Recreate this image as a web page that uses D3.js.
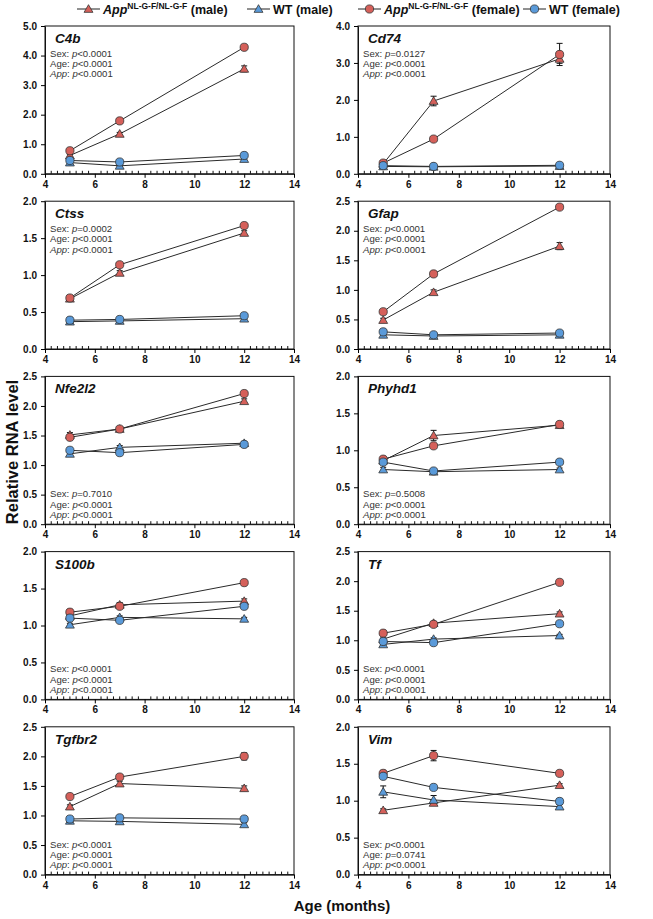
<!DOCTYPE html>
<html>
<head>
<meta charset="utf-8">
<script src="https://cdn.jsdelivr.net/npm/d3@7"></script>
<style>
  html, body { margin: 0; padding: 0; background: #fff; }
  svg { display: block; font-family: "Liberation Sans", Arial, sans-serif; }
</style>
</head>
<body>
<svg id="chart" width="653" height="919"></svg>
<script>
// ---------------- DATA ----------------
const ages = [5, 7, 12];
const genes = ["C4b", "Cd74", "Ctss", "Gfap", "Nfe2l2", "Phyhd1", "S100b", "Tf", "Tgfbr2", "Vim"];
const yMaxes = [5, 4, 2, 2.5, 2.5, 2, 2, 2.5, 2.5, 2];
const yTickSteps = [1, 1, 0.5, 0.5, 0.5, 0.5, 0.5, 0.5, 0.5, 0.5];
const statsPlace = ["top", "top", "top", "top", "bottom", "bottom", "bottom", "bottom", "bottom", "bottom"];
const sexP = ["<0.0001", "=0.0127", "=0.0002", "<0.0001", "=0.7010", "=0.5008", "<0.0001", "<0.0001", "<0.0001", "<0.0001"];
const ageP = ["<0.0001", "<0.0001", "<0.0001", "<0.0001", "<0.0001", "<0.0001", "<0.0001", "<0.0001", "<0.0001", "=0.0741"];
const appP = ["<0.0001", "<0.0001", "<0.0001", "<0.0001", "<0.0001", "<0.0001", "<0.0001", "<0.0001", "<0.0001", "<0.0001"];

// App NL-G-F male (red triangle)
const appMale = [
  [0.62, 1.35, 3.55], [0.27, 1.97, 3.11], [0.68, 1.03, 1.57], [0.49, 0.96, 1.74], [1.51, 1.61, 2.08],
  [0.86, 1.20, 1.34], [1.13, 1.28, 1.33], [1.02, 1.29, 1.45], [1.15, 1.54, 1.46], [0.87, 0.97, 1.21]
];
const appMaleErr = [
  [0.04, 0.05, 0.10], [0.05, 0.13, 0.12], [0.02, 0.03, 0.03], [0.03, 0.04, 0.06], [0.04, 0.02, 0.04],
  [0.03, 0.07, 0.03], [0.02, 0.03, 0.03], [0.02, 0.03, 0.03], [0.03, 0.04, 0.04], [0.02, 0.03, 0.02]
];
// WT male (blue triangle)
const wtMale = [
  [0.38, 0.27, 0.50], [0.20, 0.19, 0.21], [0.37, 0.38, 0.41], [0.24, 0.22, 0.24], [1.19, 1.30, 1.37],
  [0.74, 0.71, 0.74], [1.01, 1.11, 1.09], [0.93, 1.02, 1.08], [0.91, 0.90, 0.85], [1.12, 1.01, 0.92]
];
const wtMaleErr = [
  [0.03, 0.03, 0.03], [0.02, 0.02, 0.02], [0.02, 0.02, 0.02], [0.02, 0.02, 0.02], [0.03, 0.03, 0.03],
  [0.03, 0.02, 0.02], [0.02, 0.02, 0.02], [0.02, 0.02, 0.02], [0.02, 0.03, 0.03], [0.08, 0.06, 0.03]
];
// App NL-G-F female (red circle)
const appFemale = [
  [0.78, 1.79, 4.28], [0.29, 0.94, 3.23], [0.69, 1.14, 1.67], [0.63, 1.27, 2.40], [1.47, 1.61, 2.21],
  [0.88, 1.06, 1.35], [1.18, 1.26, 1.58], [1.12, 1.27, 1.98], [1.32, 1.65, 2.00], [1.37, 1.61, 1.37]
];
const appFemaleErr = [
  [0.03, 0.04, 0.05], [0.04, 0.04, 0.30], [0.02, 0.03, 0.03], [0.02, 0.03, 0.03], [0.03, 0.02, 0.03],
  [0.02, 0.02, 0.03], [0.02, 0.02, 0.02], [0.02, 0.02, 0.02], [0.03, 0.02, 0.06], [0.04, 0.07, 0.03]
];
// WT female (blue circle)
const wtFemale = [
  [0.45, 0.40, 0.62], [0.22, 0.20, 0.23], [0.39, 0.40, 0.45], [0.29, 0.24, 0.27], [1.25, 1.21, 1.35],
  [0.84, 0.72, 0.84], [1.10, 1.07, 1.26], [0.98, 0.96, 1.28], [0.94, 0.96, 0.94], [1.33, 1.18, 0.99]
];
const wtFemaleErr = [
  [0.02, 0.02, 0.03], [0.02, 0.02, 0.02], [0.02, 0.02, 0.02], [0.02, 0.02, 0.02], [0.02, 0.02, 0.02],
  [0.02, 0.02, 0.02], [0.02, 0.02, 0.02], [0.02, 0.02, 0.02], [0.02, 0.02, 0.02], [0.03, 0.02, 0.04]
];
const xTicks = [4, 6, 8, 10, 12, 14];
const legendLabels = ["(male)", "WT (male)", "(female)", "WT (female)"];

// ---------------- STYLE ----------------
const RED = "#d5605a", BLUE = "#5a9ad9";
const series = [
  { vals: appMale, err: appMaleErr, fill: RED, shape: "tri" },
  { vals: wtMale, err: wtMaleErr, fill: BLUE, shape: "tri" },
  { vals: appFemale, err: appFemaleErr, fill: RED, shape: "circ" },
  { vals: wtFemale, err: wtFemaleErr, fill: BLUE, shape: "circ" }
];

const svg = d3.select("#chart");
svg.append("rect").attr("width", 653).attr("height", 919).attr("fill", "#fff");

const colX = [[45, 294], [358, 610]];
const rowTop0 = 26, rowStep = 175.2, plotH = 147.8;

const triPath = d3.symbol().type(d3.symbolTriangle).size(34)();
const circR = 4.1;

function drawMarker(g, shape, fill, x, y) {
  if (shape === "tri") {
    g.append("path").attr("d", triPath).attr("transform", `translate(${x},${y + 0.8})`)
      .attr("fill", fill).attr("stroke", "#333").attr("stroke-width", 0.8);
  } else {
    g.append("circle").attr("cx", x).attr("cy", y).attr("r", circR)
      .attr("fill", fill).attr("stroke", "#333").attr("stroke-width", 0.8);
  }
}

genes.forEach((gene, i) => {
  const col = i % 2, row = Math.floor(i / 2);
  const [x0, x1] = colX[col];
  const top = rowTop0 + row * rowStep, bottom = top + plotH;
  const x = d3.scaleLinear().domain([4, 14]).range([x0, x1]);
  const y = d3.scaleLinear().domain([0, yMaxes[i]]).range([bottom, top]);
  const g = svg.append("g");

  // frame
  g.append("rect").attr("x", x0).attr("y", top).attr("width", x1 - x0).attr("height", plotH)
    .attr("fill", "none").attr("stroke", "#111").attr("stroke-width", 1);

  // y axis
  const yt = d3.range(0, yMaxes[i] + 1e-9, yTickSteps[i]);
  const yAxis = d3.axisLeft(y).tickValues(yt).tickFormat(d3.format(".1f")).tickSize(4).tickSizeOuter(0);
  const ya = g.append("g").attr("transform", `translate(${x0},0)`).call(yAxis);
  ya.select(".domain").attr("stroke", "#111");
  ya.selectAll("text").attr("font-size", 10).attr("font-weight", "bold").attr("fill", "#111")
    .attr("font-family", "Liberation Sans, Arial, sans-serif").attr("dx", "-1");

  // x axis with minor ticks inward
  const minor = d3.range(4, 14.001, 0.25).filter(v => !xTicks.includes(v));
  g.append("g").selectAll("line").data(minor).join("line")
    .attr("x1", d => x(d)).attr("x2", d => x(d)).attr("y1", bottom).attr("y2", bottom - 3)
    .attr("stroke", "#111").attr("stroke-width", 1);
  const xAxis = d3.axisBottom(x).tickValues(xTicks).tickFormat(d3.format("d")).tickSize(4).tickSizeOuter(0);
  const xa = g.append("g").attr("transform", `translate(0,${bottom})`).call(xAxis);
  xa.select(".domain").attr("stroke", "#111");
  xa.selectAll("text").attr("font-size", 10).attr("font-weight", "bold").attr("fill", "#111")
    .attr("font-family", "Liberation Sans, Arial, sans-serif");

  // gene label
  g.append("text").attr("x", x0 + 10).attr("y", top + 17).text(gene)
    .attr("font-size", 13.5).attr("font-weight", "bold").attr("font-style", "italic").attr("fill", "#111");

  // stats
  const base = statsPlace[i] === "top" ? top + 30.5 : bottom - 27;
  const lines = [
    [["Sex: ", false], ["p", true], [sexP[i], false]],
    [["Age: ", false], ["p", true], [ageP[i], false]],
    [["App", true], [": ", false], ["p", true], [appP[i], false]]
  ];
  lines.forEach((ln, k) => {
    const t = g.append("text").attr("x", x0 + 5).attr("y", base + k * 10.4)
      .attr("font-size", 9.6).attr("fill", "#333");
    ln.forEach(([s, it]) => t.append("tspan").text(s).attr("font-style", it ? "italic" : "normal"));
  });

  // lines
  const line = d3.line().x((d, j) => x(ages[j])).y(d => y(d));
  series.forEach(s => {
    g.append("path").attr("d", line(s.vals[i])).attr("fill", "none")
      .attr("stroke", "#2a2a2a").attr("stroke-width", 1);
  });
  // error bars
  series.forEach(s => {
    s.vals[i].forEach((v, j) => {
      const e = s.err[i][j];
      const cx = x(ages[j]);
      const eg = g.append("g").attr("stroke", "#111").attr("stroke-width", 1);
      eg.append("line").attr("x1", cx).attr("x2", cx).attr("y1", y(v - e)).attr("y2", y(v + e));
      eg.append("line").attr("x1", cx - 3).attr("x2", cx + 3).attr("y1", y(v + e)).attr("y2", y(v + e));
      eg.append("line").attr("x1", cx - 3).attr("x2", cx + 3).attr("y1", y(v - e)).attr("y2", y(v - e));
    });
  });
  // markers
  series.forEach(s => {
    s.vals[i].forEach((v, j) => drawMarker(g, s.shape, s.fill, x(ages[j]), y(v)));
  });
});

// axis titles
svg.append("text").attr("x", 342).attr("y", 911).attr("text-anchor", "middle")
  .attr("font-size", 15).attr("font-weight", "bold").attr("fill", "#111").text("Age (months)");
svg.append("text").attr("transform", "translate(18,452) rotate(-90)").attr("text-anchor", "middle")
  .attr("font-size", 16.5).attr("font-weight", "bold").attr("fill", "#111").text("Relative RNA level");

// legend
const legendItems = [
  { x1: 77, shape: "tri", fill: RED, app: true, label: legendLabels[0] },
  { x1: 247, shape: "tri", fill: BLUE, app: false, label: legendLabels[1] },
  { x1: 358, shape: "circ", fill: RED, app: true, label: legendLabels[2] },
  { x1: 523, shape: "circ", fill: BLUE, app: false, label: legendLabels[3] }
];
const lg = svg.append("g");
const ly = 9;
legendItems.forEach(it => {
  lg.append("line").attr("x1", it.x1).attr("x2", it.x1 + 23).attr("y1", ly).attr("y2", ly)
    .attr("stroke", "#222").attr("stroke-width", 1);
  drawMarker(lg, it.shape, it.fill, it.x1 + 11.5, ly);
  const t = lg.append("text").attr("x", it.x1 + 26).attr("y", ly + 4.5)
    .attr("font-size", 12.5).attr("font-weight", "bold").attr("fill", "#111");
  if (it.app) {
    t.append("tspan").text("App").attr("font-style", "italic");
    t.append("tspan").text("NL-G-F/NL-G-F").attr("font-size", 8.5).attr("dy", -4.5);
    t.append("tspan").text(" " + it.label).attr("dy", 4.5);
  } else {
    t.append("tspan").text(it.label);
  }
});
</script>
</body>
</html>
